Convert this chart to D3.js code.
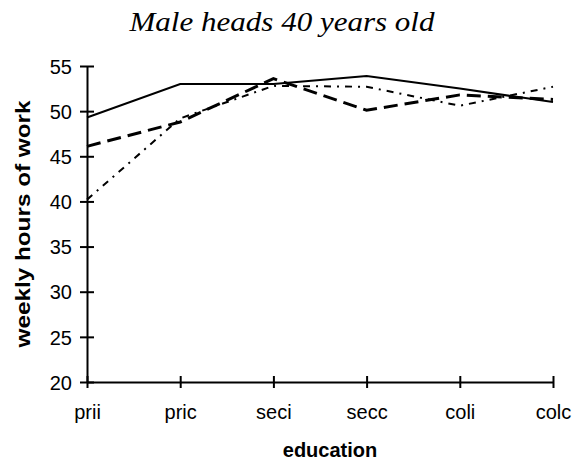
<!DOCTYPE html>
<html>
<head>
<meta charset="utf-8">
<script src="https://cdn.jsdelivr.net/npm/d3@7"></script>
<style>
  body { margin: 0; background: #fff; }
  svg { display: block; }
</style>
</head>
<body>
<svg id="chart" width="573" height="463"></svg>
<script>
const education = ["prii", "pric", "seci", "secc", "coli", "colc"];
const solidHours = [49.3, 53.0, 53.0, 53.9, 52.5, 51.0];
const dashedHours = [46.1, 48.8, 53.6, 50.1, 51.8, 51.3];
const dotDashHours = [40.2, 49.2, 52.8, 52.7, 50.6, 52.7];
const yTicks = [20, 25, 30, 35, 40, 45, 50, 55];

const svg = d3.select("#chart");
const sans = "Liberation Sans, Arial, sans-serif";

const x = d3.scalePoint().domain(education).range([87, 553]);
const y = d3.scaleLinear().domain([20, 55]).range([382, 66]);

svg.append("text")
  .attr("x", 282)
  .attr("y", 31)
  .attr("text-anchor", "middle")
  .attr("font-family", "Liberation Serif, Times New Roman, serif")
  .attr("font-style", "italic")
  .attr("font-size", "27px")
  .attr("textLength", 305)
  .attr("lengthAdjust", "spacingAndGlyphs")
  .text("Male heads 40 years old");

// y axis, ticks cross the line
const yAxis = svg.append("g")
  .attr("transform", "translate(87,0)")
  .call(d3.axisLeft(y).tickValues(yTicks).tickSizeInner(7).tickSizeOuter(0).tickPadding(8));
yAxis.selectAll(".tick line").attr("x1", -7).attr("x2", 7);

const xAxis = svg.append("g")
  .attr("transform", "translate(0,382)")
  .call(d3.axisBottom(x).tickSizeInner(6).tickSizeOuter(0).tickPadding(0));
xAxis.selectAll(".tick line").attr("y1", -6).attr("y2", 6);
xAxis.selectAll(".tick text").attr("dy", null).attr("y", 37);

svg.selectAll(".domain").attr("stroke", "#000").attr("stroke-width", 2);
svg.selectAll(".tick line").attr("stroke", "#000").attr("stroke-width", 2);
svg.selectAll(".tick text")
  .attr("font-family", sans)
  .attr("font-size", "20px")
  .attr("fill", "#000");
yAxis.selectAll(".tick text").attr("dy", "0.36em");

svg.append("text")
  .attr("x", 330)
  .attr("y", 457)
  .attr("text-anchor", "middle")
  .attr("font-family", sans)
  .attr("font-weight", "bold")
  .attr("font-size", "20px")
  .text("education");

svg.append("text")
  .attr("transform", "translate(22,224) rotate(-90)")
  .attr("text-anchor", "middle")
  .attr("dominant-baseline", "central")
  .attr("font-family", sans)
  .attr("font-weight", "bold")
  .attr("font-size", "21px")
  .attr("textLength", 247)
  .attr("lengthAdjust", "spacingAndGlyphs")
  .text("weekly hours of work");

const line = d3.line()
  .x((d, i) => x(education[i]))
  .y(d => y(d));

const series = [
  { values: dotDashHours, dash: "7,6,2,6", width: 2 },
  { values: dashedHours, dash: "14,7", width: 3 },
  { values: solidHours, dash: null, width: 2 }
];

series.forEach(s => {
  svg.append("path")
    .attr("d", line(s.values))
    .attr("fill", "none")
    .attr("stroke", "#000")
    .attr("stroke-width", s.width)
    .attr("stroke-dasharray", s.dash);
});
</script>
</body>
</html>
